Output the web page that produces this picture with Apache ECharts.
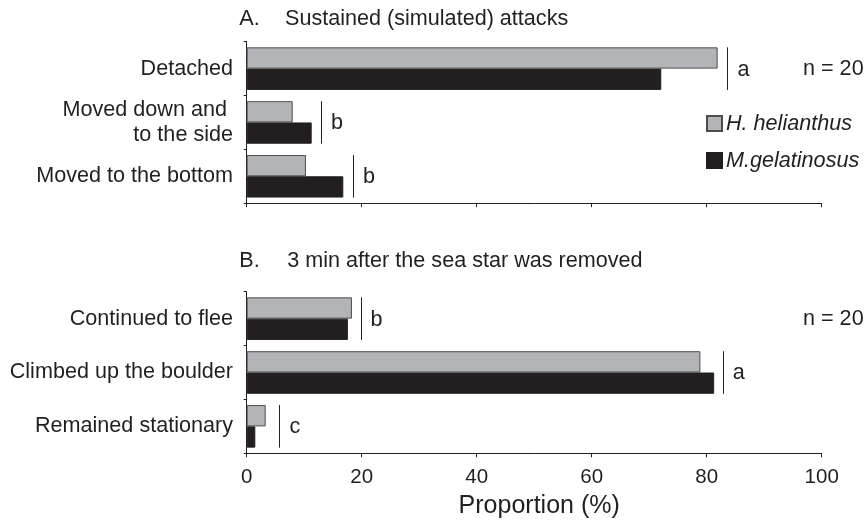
<!DOCTYPE html>
<html>
<head>
<meta charset="utf-8">
<script src="https://cdn.jsdelivr.net/npm/echarts@6/dist/echarts.min.js"></script>
<style>
html,body{margin:0;padding:0;background:#fff;}
#chart{width:867px;height:524px;}
</style>
</head>
<body>
<div id="chart"></div>
<script>
// ---- data ----
const seriesNames = ['H. helianthus', 'M.gelatinosus'];
const catsA = ['Detached', 'Moved down and \nto the side', 'Moved to the bottom'];
const heliA = [81.9, 8.0, 10.3];
const gelaA = [72.1, 11.3, 16.8];
const sigPosA = [83.6, 12.9, 18.5];
const sigLetA = ['a', 'b', 'b'];
const catsB = ['Continued to flee', 'Climbed up the boulder', 'Remained stationary'];
const heliB = [18.3, 78.9, 3.3];
const gelaB = [17.6, 81.3, 1.5];
const sigPosB = [19.8, 82.8, 5.7];
const sigLetB = ['b', 'a', 'c'];
const xTicks = [0, 20, 40, 60, 80, 100];
const titleA = ['A.', 'Sustained (simulated) attacks'];
const titleB = ['B.', '3 min after the sea star was removed'];
const nLabel = 'n = 20';
const xName = 'Proportion (%)';

// ---- styles ----
const FONT = '"Liberation Sans", Arial, Helvetica, sans-serif';
const INK = '#231f20';
const GREY = '#b3b4b7';
const FS = 21.6;

const chart = echarts.init(document.getElementById('chart'), null, {renderer: 'canvas'});

const gridLeft = 246.7, gridWidth = 575;
const grids = [
  {left: gridLeft, top: 41.7, width: gridWidth, height: 161.5, containLabel: false, outerBoundsMode: 'none'},
  {left: gridLeft, top: 291.7, width: gridWidth, height: 161.6, containLabel: false, outerBoundsMode: 'none'}
];

function xAxis(idx, showLabels) {
  return {
    type: 'value', gridIndex: idx,
    min: xTicks[0], max: xTicks[xTicks.length - 1], interval: xTicks[1] - xTicks[0],
    axisLine: {show: true, lineStyle: {color: INK, width: 1}},
    axisTick: {show: true, length: 4, lineStyle: {color: INK, width: 1}},
    splitLine: {show: false},
    axisLabel: {show: showLabels, color: INK, fontSize: 20.5, fontFamily: FONT, margin: 14},
    name: showLabels ? xName : '',
    nameLocation: 'middle', nameGap: 40,
    nameTextStyle: {color: INK, fontSize: 25, fontFamily: FONT, padding: [0, 0, 0, 10]}
  };
}
function yAxis(idx, cats) {
  return {
    type: 'category', gridIndex: idx, data: cats, inverse: true,
    axisLine: {show: true, lineStyle: {color: INK, width: 1}},
    axisTick: {show: true, length: 3, lineStyle: {color: INK, width: 1}},
    axisLabel: {color: INK, fontSize: FS, fontFamily: FONT, margin: 13.7, lineHeight: 25.5, align: 'right'},
    splitLine: {show: false}
  };
}
function bar(name, idx, data, fill, border) {
  return {
    type: 'bar', name: name, xAxisIndex: idx, yAxisIndex: idx, data: data,
    barGap: '0%', barCategoryGap: '21%',
    itemStyle: {color: fill, borderColor: border, borderWidth: 1},
    emphasis: {disabled: true},
    animation: false
  };
}
function sig(idx, pos, letters) {
  return {
    type: 'custom', xAxisIndex: idx, yAxisIndex: idx,
    data: pos.map((v, i) => [v, i]),
    encode: {x: 0, y: 1},
    silent: true, animation: false,
    renderItem: function (params, api) {
      const p = api.coord([api.value(0), api.value(1)]);
      const band = api.size([0, 1])[1];
      const half = band * 0.395;
      return {
        type: 'group',
        children: [
          {type: 'line', shape: {x1: Math.round(p[0]) + 0.5, y1: p[1] - half, x2: Math.round(p[0]) + 0.5, y2: p[1] + half},
           style: {stroke: INK, lineWidth: 1}},
          {type: 'text', style: {text: letters[params.dataIndex], x: p[0] + 10, y: p[1] + 1,
           verticalAlign: 'middle', align: 'left', fontSize: FS, fontFamily: FONT, fill: INK}}
        ]
      };
    }
  };
}

const titleStyle = {color: INK, fontSize: FS, fontFamily: FONT, fontWeight: 'normal'};

chart.setOption({
  animation: false,
  backgroundColor: '#ffffff',
  textStyle: {fontFamily: FONT},
  title: [
    {text: titleA[0], left: 239.3, top: 8, padding: 0, textStyle: titleStyle},
    {text: titleA[1], left: 285, top: 8, padding: 0, textStyle: titleStyle},
    {text: titleB[0], left: 239.3, top: 250, padding: 0, textStyle: titleStyle},
    {text: titleB[1], left: 287.3, top: 250, padding: 0, textStyle: titleStyle}
  ],
  legend: {
    data: seriesNames,
    orient: 'vertical', left: 706, top: 112.5, padding: 0,
    itemWidth: 15, itemHeight: 15, itemGap: 15,
    icon: 'rect',
    selectedMode: false,
    textStyle: {color: INK, fontSize: FS, fontFamily: FONT, fontStyle: 'italic', padding: [0, 0, 0, -1]}
  },
  grid: grids,
  xAxis: [xAxis(0, false), xAxis(1, true)],
  yAxis: [yAxis(0, catsA), yAxis(1, catsB)],
  graphic: [
    {type: 'text', left: 803, top: 58, style: {text: nLabel, fontSize: FS, fontFamily: FONT, fill: INK}},
    {type: 'text', left: 803, top: 308, style: {text: nLabel, fontSize: FS, fontFamily: FONT, fill: INK}}
  ],
  series: [
    bar(seriesNames[0], 0, heliA, GREY, '#4d4d4f'),
    bar(seriesNames[1], 0, gelaA, INK, INK),
    bar(seriesNames[0], 1, heliB, GREY, '#4d4d4f'),
    bar(seriesNames[1], 1, gelaB, INK, INK),
    sig(0, sigPosA, sigLetA),
    sig(1, sigPosB, sigLetB)
  ]
});
</script>
</body>
</html>
